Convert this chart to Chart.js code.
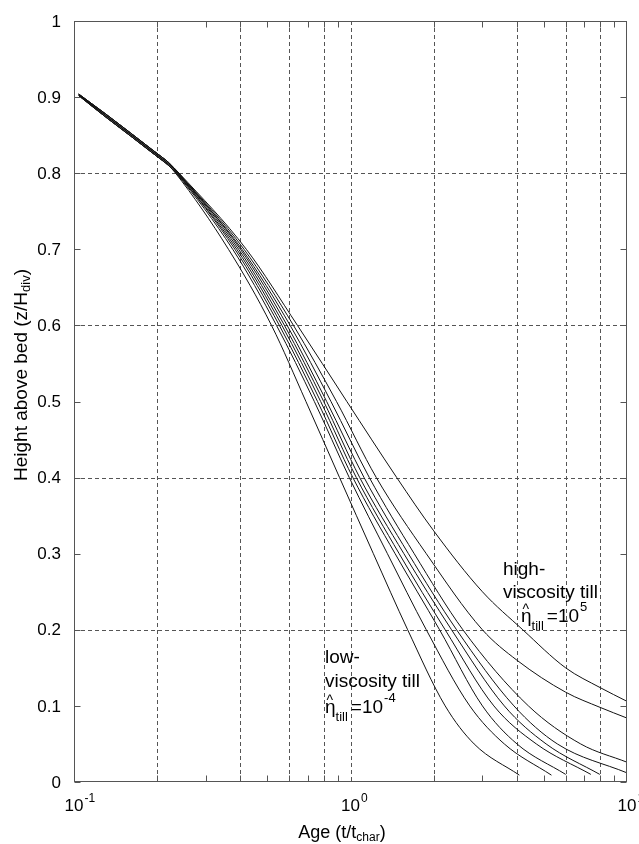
<!DOCTYPE html>
<html><head><meta charset="utf-8">
<script src="https://cdn.jsdelivr.net/npm/chart.js@4.4.1/dist/chart.umd.min.js"></script>
<style>html,body{margin:0;padding:0;background:#fff}canvas{display:block}</style>
</head><body>
<canvas id="c" width="639" height="844"></canvas>
<script>
// ---- data (x = age t/tchar, y = z/Hdiv) ----
const startLow  = [[0.104,0.902],[0.13,0.874],[0.16,0.849],[0.19,0.828],[0.21,0.816],[0.22,0.810]];
const startMid  = [[0.104,0.903],[0.13,0.876],[0.16,0.851],[0.19,0.830],[0.21,0.818],[0.22,0.812]];
const startHigh = [[0.104,0.904],[0.13,0.878],[0.16,0.853],[0.19,0.832],[0.21,0.820],[0.22,0.814]];
const curve1 = [[0.233,0.8],[0.362,0.7],[0.518,0.6],[0.69,0.5],[0.913,0.4],[1.21,0.3],[1.61,0.2],[2.2,0.1],[2.8,0.05],[4.08,0.009]];
const curve2 = [[0.234,0.8],[0.375,0.7],[0.540,0.6],[0.74,0.5],[0.99,0.4],[1.36,0.3],[1.88,0.2],[2.7,0.1],[3.6,0.05],[5.33,0.009]];
const curve3 = [[0.235,0.8],[0.382,0.7],[0.553,0.6],[0.76,0.5],[1.02,0.4],[1.45,0.3],[2.1,0.2],[3.0,0.1],[4.0,0.05],[6.0,0.01]];
const curve4 = [[0.236,0.8],[0.388,0.7],[0.565,0.6],[0.78,0.5],[1.05,0.4],[1.5,0.3],[2.2,0.2],[3.3,0.1],[4.7,0.05],[7.4,0.01]];
const curve5 = [[0.237,0.8],[0.394,0.7],[0.577,0.6],[0.80,0.5],[1.08,0.4],[1.56,0.3],[2.32,0.2],[3.6,0.1],[5.1,0.05],[7.97,0.01]];
const curve6 = [[0.238,0.8],[0.40,0.7],[0.59,0.6],[0.82,0.5],[1.12,0.4],[1.62,0.3],[2.42,0.2],[3.9,0.1],[5.6,0.05],[10,0.012]];
const curve7 = [[0.238,0.8],[0.405,0.7],[0.605,0.6],[0.85,0.5],[1.17,0.4],[1.7,0.3],[2.55,0.2],[4.4,0.1],[6.8,0.05],[10,0.026]];
const curve8 = [[0.239,0.8],[0.412,0.7],[0.622,0.6],[0.89,0.5],[1.24,0.4],[1.88,0.3],[3.0,0.2],[4,0.16],[6,0.118],[8,0.098],[10,0.084]];
const curve9 = [[0.240,0.8],[0.42,0.7],[0.643,0.6],[0.97,0.5],[1.47,0.4],[2.0,0.33],[3.0,0.25],[4.2,0.2],[6,0.15],[8,0.124],[10,0.106]];

const xGridValues = [0.2,0.4,0.6,0.8,1,2,4,6,8];
const yGridValues = [0.2,0.4,0.6,0.8];
const yTickValues = [0,0.1,0.2,0.3,0.4,0.5,0.6,0.7,0.8,0.9,1];
const yTickLabels = ['0','0.1','0.2','0.3','0.4','0.5','0.6','0.7','0.8','0.9','1'];
const xMinorTickValues = [0.2,0.3,0.4,0.5,0.6,0.7,0.8,0.9,2,3,4,5,6,7,8,9];
const xLabelValues = [0.1,1,10];
const xLabelExponents = ['-1','0','1'];

const FONT = '"Liberation Sans", Arial, Helvetica, sans-serif';
const series = [
  startLow.concat(curve1), startLow.concat(curve2), startLow.concat(curve3),
  startMid.concat(curve4), startMid.concat(curve5), startMid.concat(curve6),
  startHigh.concat(curve7), startHigh.concat(curve8), startHigh.concat(curve9)
];

function richText(ctx, segs, x, y, align){
  let w = 0;
  segs.forEach(s=>{ctx.font = s[1]+'px '+FONT; w += ctx.measureText(s[0]).width;});
  let cx = align==='center' ? x - w/2 : x;
  ctx.textAlign = 'left'; ctx.textBaseline = 'alphabetic';
  segs.forEach(s=>{ctx.font = s[1]+'px '+FONT; ctx.fillText(s[0], cx, y + (s[2]||0)); cx += ctx.measureText(s[0]).width;});
  return w;
}

function etaLabel(ctx, x, y, exp){
  ctx.fillStyle = '#000';
  ctx.font = '19px '+FONT;
  ctx.textAlign='left'; ctx.textBaseline='alphabetic';
  ctx.fillText('\u03B7', x, y);
  const ew = ctx.measureText('\u03B7').width;
  ctx.font = '14px '+FONT;
  const hw = ctx.measureText('^').width;
  ctx.fillText('^', x + ew/2 - hw/2 - 0.5, y - 8);
  let cx = x + ew;
  ctx.font = '13px '+FONT;
  ctx.fillText('till', cx, y + 8);
  cx += ctx.measureText('till').width + 3;
  ctx.font = '19px '+FONT;
  ctx.fillText('=10', cx, y);
  cx += ctx.measureText('=10').width + 1;
  ctx.font = '13px '+FONT;
  ctx.fillText(exp, cx, y - 11);
}

const decor = {
  id: 'decor',
  beforeDatasetsDraw(chart){
    const {ctx, chartArea:a, scales:{x, y}} = chart;
    ctx.save();
    ctx.strokeStyle = '#555'; ctx.lineWidth = 1; ctx.setLineDash([4,3]);
    xGridValues.forEach(v=>{
      const px = Math.round(x.getPixelForValue(v)) + 0.5;
      ctx.beginPath(); ctx.moveTo(px, a.top); ctx.lineTo(px, a.bottom); ctx.stroke();
    });
    yGridValues.forEach(v=>{
      const py = Math.round(y.getPixelForValue(v)) + 0.5;
      ctx.beginPath(); ctx.moveTo(a.left, py); ctx.lineTo(a.right, py); ctx.stroke();
    });
    ctx.restore();
  },
  afterDatasetsDraw(chart){
    const {ctx, chartArea:a, scales:{x, y}} = chart;
    ctx.save();
    ctx.setLineDash([]);
    ctx.strokeStyle = '#555'; ctx.lineWidth = 1;
    const L = Math.round(a.left)+0.5, R = Math.round(a.right)-0.5, T = Math.round(a.top)+0.5, B = Math.round(a.bottom)-0.5;
    ctx.strokeRect(L, T, R-L, B-T);
    ctx.beginPath();
    yTickValues.forEach(v=>{
      const py = Math.round(y.getPixelForValue(v)) + 0.5;
      ctx.moveTo(L, py); ctx.lineTo(L+6, py);
      ctx.moveTo(R, py); ctx.lineTo(R-6, py);
    });
    xMinorTickValues.forEach(v=>{
      const px = Math.round(x.getPixelForValue(v)) + 0.5;
      ctx.moveTo(px, B); ctx.lineTo(px, B-6);
      ctx.moveTo(px, T); ctx.lineTo(px, T+6);
    });
    ctx.stroke();
    ctx.fillStyle = '#000';
    ctx.font = '17px '+FONT; ctx.textAlign='right'; ctx.textBaseline='middle';
    yTickValues.forEach((v,i)=>{ ctx.fillText(yTickLabels[i], a.left - 13, y.getPixelForValue(v)+1); });
    xLabelValues.forEach((v,i)=>{
      const px = x.getPixelForValue(v);
      ctx.font = '17px '+FONT; ctx.textAlign='center'; ctx.textBaseline='alphabetic';
      ctx.fillText('10', px, a.bottom + 29);
      const w = ctx.measureText('10').width;
      ctx.font = '12px '+FONT; ctx.textAlign='left';
      ctx.fillText(xLabelExponents[i], px + w/2 + 1, a.bottom + 20);
    });
    richText(ctx, [['Age (t/t',18,0],['char',12,3],[')',18,0]], 342, 838, 'center');
    ctx.save();
    ctx.translate(27, 375);
    ctx.rotate(-Math.PI/2);
    richText(ctx, [['Height above bed (z/H',19,0],['div',13,3],[')',19,0]], 0, 0, 'center');
    ctx.restore();
    ctx.font = '19px '+FONT; ctx.textAlign='left'; ctx.textBaseline='alphabetic';
    ctx.fillText('low-', 325, 663);
    ctx.fillText('viscosity till', 325, 687);
    etaLabel(ctx, 325, 713, '-4');
    ctx.font = '19px '+FONT;
    ctx.fillText('high-', 503, 575);
    ctx.fillText('viscosity till', 503, 598);
    etaLabel(ctx, 521, 622, '5');
    ctx.restore();
  }
};

new Chart(document.getElementById('c'), {
  type: 'line',
  data: {
    datasets: series.map((c,i)=>({
      label: 'curve'+(i+1),
      data: c.map(p=>({x:p[0], y:p[1]})),
      borderColor: '#111', borderWidth: 1, pointRadius: 0,
      cubicInterpolationMode: 'monotone', fill: false
    }))
  },
  options: {
    responsive: false, animation: false,
    layout: {padding: {left: 74, top: 21, right: 12, bottom: 62}},
    plugins: {legend: {display: false}, tooltip: {enabled: false}},
    scales: {
      x: {type: 'logarithmic', min: 0.1, max: 10, display: false},
      y: {type: 'linear', min: 0, max: 1, display: false}
    }
  },
  plugins: [decor]
});
</script>
</body></html>
